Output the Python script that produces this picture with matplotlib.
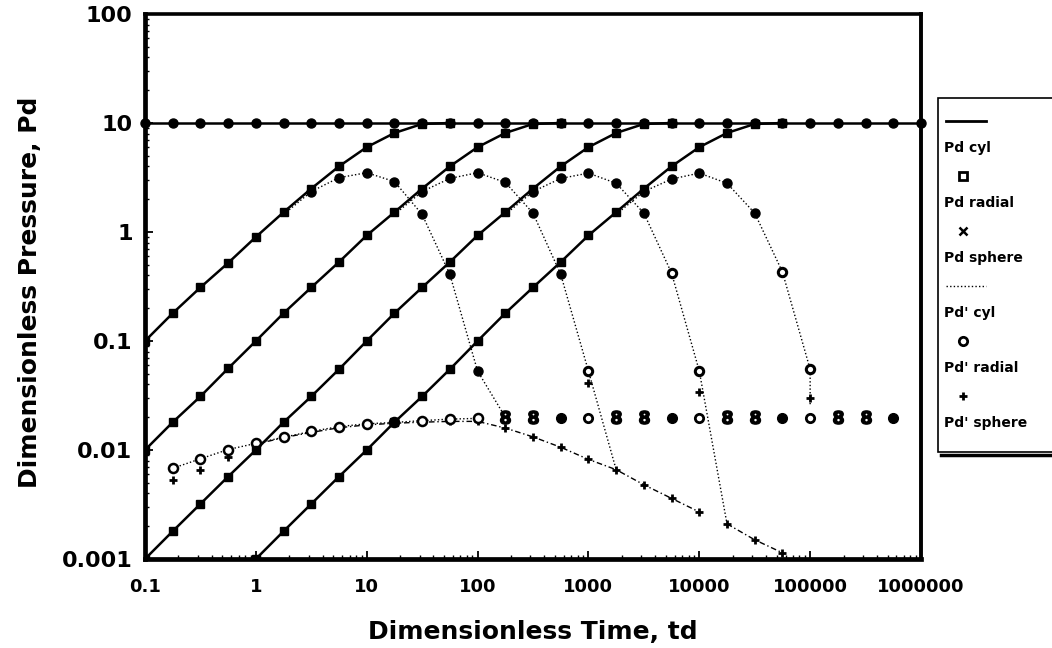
"""Dimensionless pressure and its log-derivative against dimensionless time."""
import matplotlib

matplotlib.use("Agg")
import matplotlib.pyplot as plt
from matplotlib.lines import Line2D
from matplotlib.patches import Rectangle
from matplotlib.ticker import FixedFormatter, FixedLocator, LogLocator, NullFormatter

# time grid, four points per decade
TD = [0.1, 0.178, 0.316, 0.562, 1, 1.78, 3.16, 5.62, 10, 17.8, 31.6, 56.2,
      100, 178, 316, 562, 1000, 1778, 3162, 5623, 10000, 17783, 31623, 56234,
      100000, 177828, 316228, 562341, 1000000]

# Pd: constant plateau and four build-up curves
plateau_pd = [10, 10, 10, 10, 10, 10, 10, 10, 10, 10, 10, 10, 10, 10, 10, 10,
              10, 10, 10, 10, 10, 10, 10, 10, 10, 10, 10, 10, 10]
rise1_td = TD[0:12]
rise1_pd = [0.1, 0.18, 0.31, 0.52, 0.9, 1.52, 2.5, 4.0, 6.0, 8.1, 9.8, 10]
rise2_td = TD[0:16]
rise2_pd = [0.01, 0.018, 0.031, 0.056, 0.1, 0.18, 0.31, 0.53, 0.93, 1.52, 2.5,
            4.0, 6.0, 8.1, 9.8, 10]
rise3_td = TD[0:20]
rise3_pd = [0.001, 0.0018, 0.0032, 0.0057, 0.01, 0.018, 0.031, 0.055, 0.1,
            0.18, 0.31, 0.53, 0.93, 1.52, 2.5, 4.0, 6.0, 8.1, 9.8, 10]
rise4_td = TD[4:24]
rise4_pd = [0.001, 0.0018, 0.0032, 0.0057, 0.01, 0.018, 0.031, 0.055, 0.1,
            0.18, 0.31, 0.53, 0.93, 1.52, 2.5, 4.0, 6.0, 8.1, 9.8, 10]

# Pd' cyl: four humps
hump1_td = TD[5:14]
hump1_pd = [1.45, 2.35, 3.15, 3.5, 2.9, 1.45, 0.41, 0.053, 0.02]
hump2_td = TD[9:18]
hump2_pd = [1.45, 2.35, 3.1, 3.5, 2.85, 1.49, 0.41, 0.053, 0.0066]
hump3_td = TD[13:22]
hump3_pd = [1.45, 2.35, 3.1, 3.47, 2.8, 1.49, 0.42, 0.053, 0.0021]
hump4_td = TD[17:25] + [100000]
hump4_pd = [1.45, 2.35, 3.06, 3.47, 2.8, 1.49, 0.43, 0.055, 0.026]

# Pd' radial
radial_td = TD[1:13]
radial_pd = [0.0068, 0.0083, 0.0101, 0.0115, 0.0131, 0.0148, 0.0164, 0.0174,
             0.0179, 0.0186, 0.0192, 0.0195]
radial_open_td = [1000, 10000, 100000]
radial_open_pd = [0.0197, 0.0197, 0.0197]
radial_solid_td = [562, 5623, 56234, 562341]
radial_solid_pd = [0.0197, 0.0197, 0.0197, 0.0197]
radial_double_td = [178, 316, 1778, 3162, 17783, 31623, 177828, 316228]
radial_double_pd = [0.0199, 0.0199, 0.0199, 0.0199, 0.0199, 0.0199, 0.0199, 0.0199]
radial_tail_td = [1000, 5623, 10000, 56234, 100000]
radial_tail_pd = [0.053, 0.42, 0.053, 0.43, 0.055]

# Pd' sphere
sphere_td = TD[1:21]
sphere_pd = [0.0053, 0.0066, 0.0086, 0.0113, 0.013, 0.0145, 0.016, 0.017,
             0.0176, 0.018, 0.0183, 0.0183, 0.0159, 0.0132, 0.0106, 0.0082,
             0.0066, 0.0048, 0.0036, 0.0027]
sphere_late_td = TD[21:24]
sphere_late_pd = [0.0021, 0.0015, 0.00114]
sphere_tail_td = [1000, 10000, 100000]
sphere_tail_pd = [0.041, 0.034, 0.030]

X_TICKS = [0.1, 1, 10, 100, 1000, 10000, 100000, 1000000]
X_TICK_LABELS = ["0.1", "1", "10", "100", "1000", "10000", "100000", "1000000"]
Y_TICKS = [0.001, 0.01, 0.1, 1, 10, 100]
Y_TICK_LABELS = ["0.001", "0.01", "0.1", "1", "10", "100"]
LEGEND_LABELS = ["Pd cyl", "Pd radial", "Pd sphere", "Pd' cyl", "Pd' radial",
                 "Pd' sphere"]

W, H = 1052, 648
DOTTED = (0, (1, 1.6))
DASHDOT = (0, (4, 2, 1, 2))

plt.rcParams["font.family"] = ["DejaVu Sans"]
plt.rcParams["font.weight"] = "bold"

fig = plt.figure(figsize=(W / 100, H / 100), dpi=100)
ax = fig.add_axes([145 / W, 1 - 559 / H, 776 / W, 545 / H])
ax.set_xscale("log")
ax.set_yscale("log")

# Pd curves
ax.plot(TD, plateau_pd, color="black", lw=1.8, marker="o", ms=6.5, clip_on=False,
        zorder=4)
for td, pd_ in [(rise1_td, rise1_pd), (rise2_td, rise2_pd),
                (rise3_td, rise3_pd), (rise4_td, rise4_pd)]:
    ax.plot(td, pd_, color="black", lw=1.8, marker="s", ms=6, zorder=4)

# Pd' cyl humps, filled markers on the hump part only
for td, pd_, last in [(hump1_td, hump1_pd, 8), (hump2_td, hump2_pd, 7),
                      (hump3_td, hump3_pd, 6), (hump4_td, hump4_pd, 6)]:
    ax.plot(td, pd_, color="black", lw=1.0, ls=DOTTED, marker="o", ms=6.5,
            markevery=slice(1, last), zorder=3)

# Pd' radial
ax.plot(radial_td, radial_pd, color="black", lw=1.0, ls=DOTTED, marker="o",
        ms=6.5, mfc="white", mew=1.8, zorder=3)
ax.plot(radial_open_td, radial_open_pd, ls="none", marker="o", ms=6,
        mfc="white", mec="black", mew=2)
ax.plot(radial_solid_td, radial_solid_pd, ls="none", marker="o", ms=7,
        mfc="black", mec="black")
ax.plot(radial_double_td, radial_double_pd, ls="none", marker="$8$", ms=9.5,
        color="black")
ax.plot(radial_tail_td, radial_tail_pd, ls="none", marker="o", ms=6,
        mfc="white", mec="black", mew=2.2, zorder=5)

# Pd' sphere
ax.plot(sphere_td, sphere_pd, ls="none", marker="+", ms=6, mew=2, color="black")
ax.plot(sphere_td[3:], sphere_pd[3:], color="black", lw=1.0, ls=DASHDOT)
ax.plot(sphere_late_td, sphere_late_pd, color="black", lw=1.0, ls=DASHDOT,
        marker="+", ms=6, mew=2)
ax.plot(sphere_tail_td, sphere_tail_pd, ls="none", marker="+", ms=6, mew=2,
        color="black")

ax.set_xlim(0.1, 1000000)
ax.set_ylim(0.001, 100)
ax.xaxis.set_major_locator(FixedLocator(X_TICKS))
ax.xaxis.set_major_formatter(FixedFormatter(X_TICK_LABELS))
ax.yaxis.set_major_locator(FixedLocator(Y_TICKS))
ax.yaxis.set_major_formatter(FixedFormatter(Y_TICK_LABELS))
for axis in (ax.xaxis, ax.yaxis):
    axis.set_minor_locator(LogLocator(base=10, subs=range(2, 10), numticks=20))
    axis.set_minor_formatter(NullFormatter())
ax.tick_params(which="both", direction="in", color="black")
ax.tick_params(which="major", length=6, width=1.3)
ax.tick_params(which="minor", length=3, width=1.0)
ax.tick_params(axis="x", which="major", labelsize=13, pad=14)
ax.tick_params(axis="y", which="major", labelsize=16, pad=9)
for side, lw in [("left", 3.4), ("bottom", 3.4), ("top", 2.6), ("right", 2.8)]:
    ax.spines[side].set_linewidth(lw)

ax.set_xlabel("Dimensionless Time, td", fontsize=18, fontweight="bold")
ax.set_ylabel("Dimensionless Pressure, Pd", fontsize=18, fontweight="bold")
ax.xaxis.set_label_coords(0.5, -(620 - 559) / 545)
ax.xaxis.label.set_va("top")
ax.yaxis.set_label_coords((42 - 145) / 776, 0.49)

# legend box (sample drawn above each label), cut off at the right edge
fig.add_artist(Rectangle((938 / W, 1 - 452 / H), 140 / W, 354 / H,
                         transform=fig.transFigure, facecolor="white",
                         edgecolor="black", lw=1.2, zorder=5))
fig.add_artist(Line2D([941 / W, 1.0], [1 - 455 / H, 1 - 455 / H],
                      transform=fig.transFigure, color="black", lw=2.5,
                      zorder=5))
samples = [dict(ls="-", lw=2.0), dict(marker="s", mfc="white", mew=2.0, ms=6),
           dict(marker="x", mew=1.8, ms=6), dict(ls=DOTTED, lw=1.0),
           dict(marker="o", mfc="white", mew=2.0, ms=6),
           dict(marker="+", mew=2.0, ms=6)]
for i, (label, style) in enumerate(zip(LEGEND_LABELS, samples)):
    sy = 1 - (121 + 55 * i) / H
    ly = 1 - (148 + 55 * i) / H
    if "marker" in style:
        fig.add_artist(Line2D([963 / W], [sy], transform=fig.transFigure,
                              color="black", ls="none", zorder=6, **style))
    else:
        fig.add_artist(Line2D([946 / W, 986 / W], [sy, sy],
                              transform=fig.transFigure, color="black",
                              zorder=6, **style))
    fig.text(944 / W, ly, label, fontsize=10, fontweight="bold", va="center",
             ha="left", zorder=6)

fig.savefig("out.png", dpi=100)
